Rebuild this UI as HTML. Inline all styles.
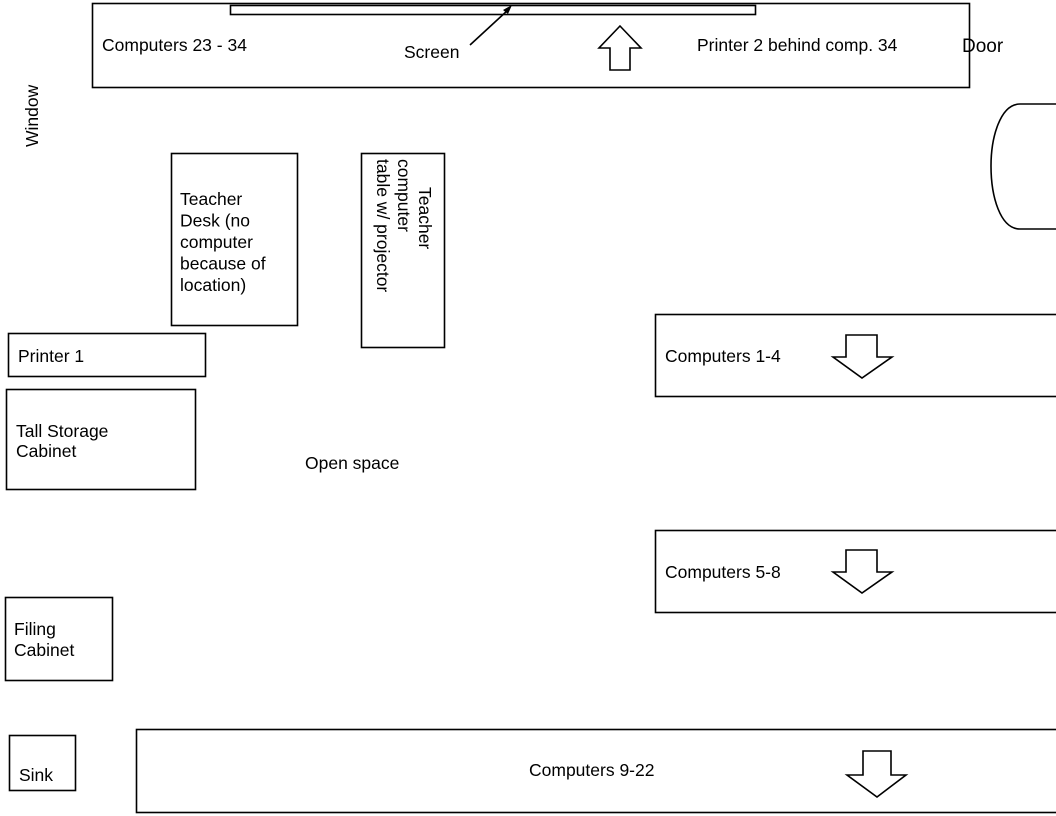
<!DOCTYPE html>
<html><head><meta charset="utf-8"><style>
html,body{margin:0;padding:0;background:#fff;}
svg{display:block;}
text{font-family:"Liberation Sans",Arial,sans-serif;font-size:17.5px;fill:#000;}
</style></head><body>
<svg width="1056" height="816" viewBox="0 0 1056 816" xmlns="http://www.w3.org/2000/svg">
<g fill="none" stroke="#000" stroke-width="1.6">
<rect x="92.5" y="3.5" width="877" height="84"/>
<rect x="230.5" y="5.5" width="525" height="9"/>
<line x1="470" y1="45" x2="508" y2="10"/>
<path d="M620,26 L641,48 L630,48 L630,70 L610,70 L610,48 L599,48 Z"/>
<path d="M1056,104 L1020,104 C1000,104 991,138 991,166 C991,196 1000,229 1020,229 L1056,229"/>
<rect x="171.5" y="153.5" width="126" height="172"/>
<rect x="361.5" y="153.5" width="83" height="194"/>
<rect x="8.5" y="333.5" width="197" height="43"/>
<rect x="6.5" y="389.5" width="189" height="100"/>
<rect x="655.5" y="314.5" width="410" height="82"/>
<path d="M846,335 L877,335 L877,357 L892,357 L862,378 L833,357 L846,357 Z"/>
<rect x="655.5" y="530.5" width="410" height="82"/>
<path d="M846,550 L877,550 L877,572 L892,572 L862,593 L833,572 L846,572 Z"/>
<rect x="5.5" y="597.5" width="107" height="83"/>
<rect x="9.5" y="735.5" width="66" height="55"/>
<rect x="136.5" y="729.5" width="930" height="83"/>
<path d="M863,751 L891,751 L891,775 L906,775 L877,797 L847,775 L863,775 Z"/>
</g>
<path d="M512,5 L503,10 L508,14 Z" fill="#000"/>
<text x="102" y="51">Computers 23 - 34</text>
<text x="404" y="58">Screen</text>
<text x="697" y="51">Printer 2 behind comp. 34</text>
<text x="962" y="52" style="font-size:19px">Door</text>
<text transform="translate(38,147) rotate(-90)">Window</text>
<text x="180" y="205">Teacher</text>
<text x="180" y="226.5">Desk (no</text>
<text x="180" y="248">computer</text>
<text x="180" y="269.5">because of</text>
<text x="180" y="291">location)</text>
<text transform="translate(419,187) rotate(90)">Teacher</text>
<text transform="translate(398,159) rotate(90)">computer</text>
<text transform="translate(377,159) rotate(90)">table w/ projector</text>
<text x="18" y="362">Printer 1</text>
<text x="16" y="437">Tall Storage</text>
<text x="16" y="457">Cabinet</text>
<text x="305" y="469">Open space</text>
<text x="665" y="362">Computers 1-4</text>
<text x="665" y="578">Computers 5-8</text>
<text x="14" y="635">Filing</text>
<text x="14" y="656">Cabinet</text>
<text x="19" y="781">Sink</text>
<text x="529" y="776">Computers 9-22</text>
</svg>
</body></html>
